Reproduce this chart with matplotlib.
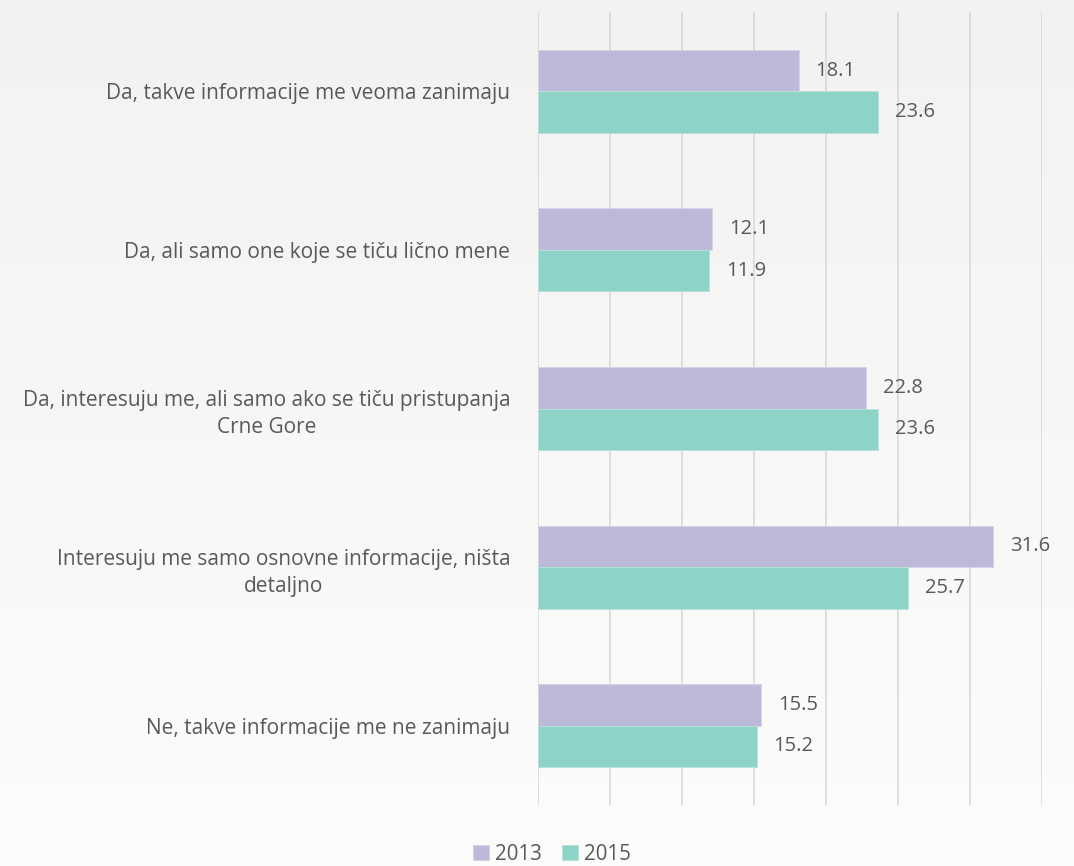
import numpy as np
import matplotlib
matplotlib.use('Agg')
import matplotlib.pyplot as plt
from matplotlib.colors import LinearSegmentedColormap

categories = ['Da, takve informacije me veoma zanimaju',
              'Da, ali samo one koje se tiču lično mene',
              'Da, interesuju me, ali samo ako se tiču pristupanja\nCrne Gore',
              'Interesuju me samo osnovne informacije, ništa\ndetaljno',
              'Ne, takve informacije me ne zanimaju']
v2013 = [18.1, 12.1, 22.8, 31.6, 15.5]
v2015 = [23.6, 11.9, 23.6, 25.7, 15.2]
series = ['2013', '2015']
colors = ['#BDB9D9', '#8DD3C7']
txt = '#595959'

plt.rcParams['font.family'] = ['Open Sans', 'DejaVu Sans']

fig = plt.figure(figsize=(10.74, 8.66), dpi=100)

# soft background gradient
bg = fig.add_axes([0, 0, 1, 1], zorder=-10)
grad = np.linspace(0, 1, 256).reshape(-1, 1)
cmap_bg = LinearSegmentedColormap.from_list('bg', ['#F3F2F0', '#FCFCFB'])
bg.imshow(grad, aspect='auto', cmap=cmap_bg, extent=[0, 1, 0, 1])
bg.axis('off')

ax = fig.add_axes([538/1074, 1-805/866, (1042-538)/1074, (805-12)/866])
ax.patch.set_alpha(0)
y = np.arange(len(categories))
h = 0.262
b1 = ax.barh(y - h/2, v2013, height=h, color=colors[0], edgecolor='#D6D3E8', linewidth=0.6, label=series[0], zorder=3)
b2 = ax.barh(y + h/2, v2015, height=h, color=colors[1], edgecolor='#B5E3DB', linewidth=0.6, label=series[1], zorder=3)
for bars, vals in [(b1, v2013), (b2, v2015)]:
    for r, v in zip(bars, vals):
        ax.annotate(f'{v:.1f}', (v, r.get_y() + r.get_height()/2), xytext=(12, 0),
                    textcoords='offset points', va='center', ha='left', fontsize=14.5, color=txt)

ax.set_xlim(0, 35)
ax.set_ylim(len(categories) - 0.5, -0.5)
ax.set_xticks(np.arange(0, 36, 5))
ax.xaxis.grid(True, color='#D9D9D9', linewidth=1.2, zorder=0)
ax.tick_params(axis='x', length=0, labelbottom=False)
ax.tick_params(axis='y', length=0, pad=20)
ax.set_yticks(y)
ax.set_yticklabels(categories, fontsize=15, color=txt, multialignment='center', linespacing=1.4)
for s in ax.spines.values():
    s.set_visible(False)

fig.legend(loc='lower center', bbox_to_anchor=(552/1074, -0.02), ncol=2, frameon=False,
           fontsize=14.8, labelcolor=txt, handlelength=0.75, handleheight=0.75,
           handletextpad=0.3, columnspacing=1.0)

fig.savefig('out.png', dpi=100, facecolor=fig.get_facecolor())
